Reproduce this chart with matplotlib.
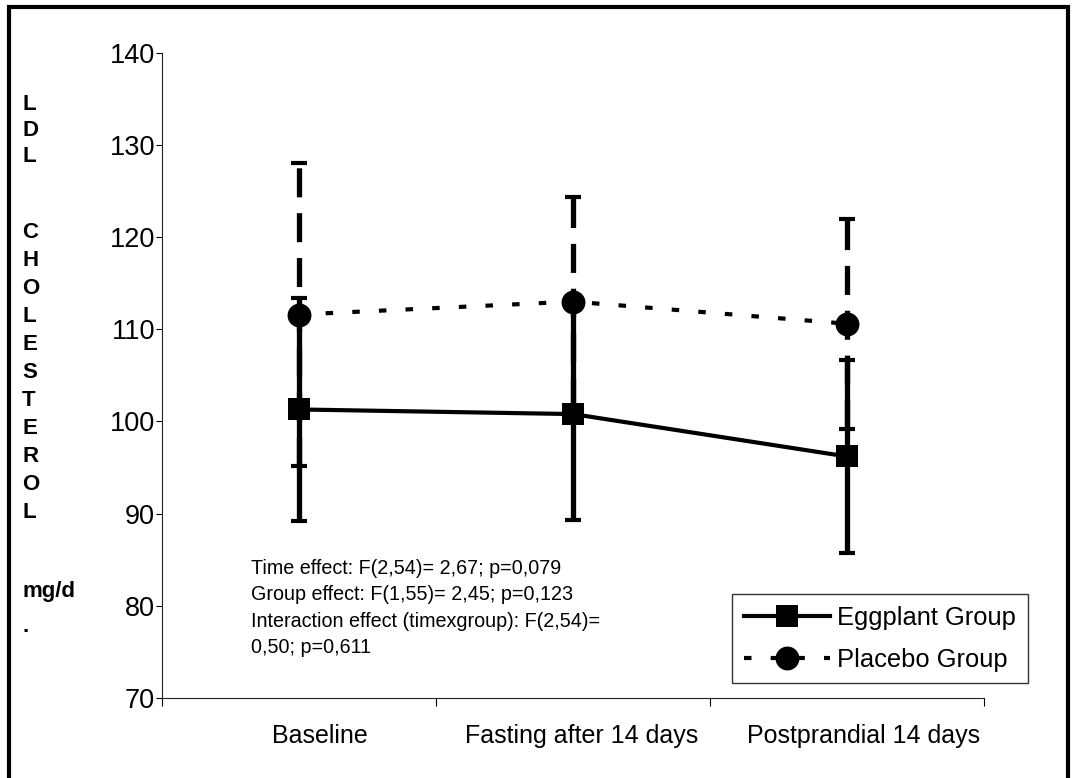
import matplotlib
matplotlib.use('Agg')
import matplotlib.pyplot as plt
import matplotlib.transforms as mtransforms
from matplotlib.patches import Rectangle

plt.rcParams['font.family'] = ['Liberation Sans', 'DejaVu Sans']

# ---------------- data ----------------
categories = ['Baseline', 'Fasting after 14 days', 'Postprandial 14 days']
eggplant_mean = [101.3, 100.8, 96.2]
eggplant_err = [12.1, 11.5, 10.5]
placebo_mean = [111.6, 113.0, 110.6]
placebo_err = [16.4, 11.4, 11.4]
yticks = [70, 80, 90, 100, 110, 120, 130, 140]
series_names = ['Eggplant Group', 'Placebo Group']
ylabel_top = ['L', 'D', 'L']
ylabel_mid = ['C', 'H', 'O', 'L', 'E', 'S', 'T', 'E', 'R', 'O', 'L']
ylabel_unit = 'mg/d'
stats_lines = [
    'Time effect: F(2,54)= 2,67; p=0,079',
    'Group effect: F(1,55)= 2,45; p=0,123',
    'Interaction effect (timexgroup): F(2,54)=',
    '0,50; p=0,611',
]

# ---------------- layout ----------------
W, H = 1073, 778
fig = plt.figure(figsize=(W / 100, H / 100), dpi=100)
fig.patch.set_facecolor('white')


def fx(px):
    return px / W


def fy(py):
    return 1 - py / H


ax = fig.add_axes([fx(162), fy(698), (984 - 162) / W, (698 - 52.7) / H])
xs = list(range(len(categories)))

# error bars: placebo (dashed) first, then eggplant (solid)
pe = ax.errorbar(xs, placebo_mean, yerr=placebo_err, fmt='none', ecolor='black',
                 elinewidth=3.8, capsize=5.8, capthick=3.0, zorder=2)
pe.lines[2][0].set_linestyle((0, (5.5, 3.0)))
ee = ax.errorbar(xs, eggplant_mean, yerr=eggplant_err, fmt='none', ecolor='black',
                 elinewidth=3.8, capsize=5.8, capthick=3.0, zorder=3)

l1, = ax.plot(xs, eggplant_mean, color='black', lw=3.0, marker='s', ms=15.8,
              mfc='black', mec='black', mew=0, zorder=5, label=series_names[0])
l2, = ax.plot(xs, placebo_mean, color='black', lw=3.0, linestyle=(0, (1.8, 4.6)),
              marker='o', ms=17.2, mfc='black', mec='black', mew=0, zorder=5,
              label=series_names[1])

ax.set_ylim(70, 140)
ax.set_xlim(-0.5, len(categories) - 0.5)
ax.set_yticks(yticks)
ax.set_yticklabels([str(v) for v in yticks])
ax.tick_params(axis='y', direction='out', length=4.3, width=0.8, pad=0.8,
               labelsize=19.5, colors='black')

ax.set_xticks([i - 0.5 for i in range(len(categories) + 1)])
ax.set_xticklabels([])
ax.tick_params(axis='x', which='major', direction='out', length=5.5, width=0.8)
ax.set_xticks(xs, minor=True)
ax.set_xticklabels(categories, minor=True)
ax.tick_params(axis='x', which='minor', length=0, pad=19, labelsize=18)
label_shift_px = [21, 9, 17]
for lab, sh in zip(ax.get_xticklabels(minor=True), label_shift_px):
    lab.set_transform(lab.get_transform() +
                      mtransforms.ScaledTranslation(sh / 100, 0, fig.dpi_scale_trans))

for side in ['top', 'right']:
    ax.spines[side].set_visible(False)
for side in ['left', 'bottom']:
    ax.spines[side].set_linewidth(0.8)
    ax.spines[side].set_color('#222222')

# legend
leg = fig.legend(handles=[l1, l2], loc='upper left',
                 bbox_to_anchor=(fx(732), fy(594)), bbox_transform=fig.transFigure,
                 borderaxespad=0, fontsize=18.4, frameon=True, fancybox=False,
                 handlelength=3.4, handletextpad=0.27, borderpad=0.45,
                 labelspacing=0.72, numpoints=1)
leg.get_frame().set_edgecolor('black')
leg.get_frame().set_linewidth(1.0)

# statistics text
for i, line in enumerate(stats_lines):
    fig.text(fx(251), fy(574 + 26.4 * i), line, fontsize=14.2, ha='left',
             va='baseline', color='black')

# vertical stacked y-label
ypos = [105 + 26.0 * i for i in range(len(ylabel_top))]
ypos += [232 + 28.1 * i for i in range(len(ylabel_mid))]
for ch, yy in zip(ylabel_top + ylabel_mid, ypos):
    fig.text(fx(22), fy(yy), ch, fontsize=16, fontweight='bold', ha='left',
             va='center', color='black')
fig.text(fx(22), fy(592), ylabel_unit, fontsize=16, fontweight='bold',
         ha='left', va='center', color='black')
fig.text(fx(22), fy(632), '.', fontsize=16, fontweight='bold',
         ha='left', va='baseline', color='black')

# outer border (bottom edge falls outside the image)
fig.patches.append(Rectangle((fx(8.7), -0.1), fx(1068) - fx(8.7), fy(7) + 0.1,
                             transform=fig.transFigure, fill=False,
                             edgecolor='black', linewidth=3.0))

fig.savefig('out.png', dpi=100, facecolor='white')
